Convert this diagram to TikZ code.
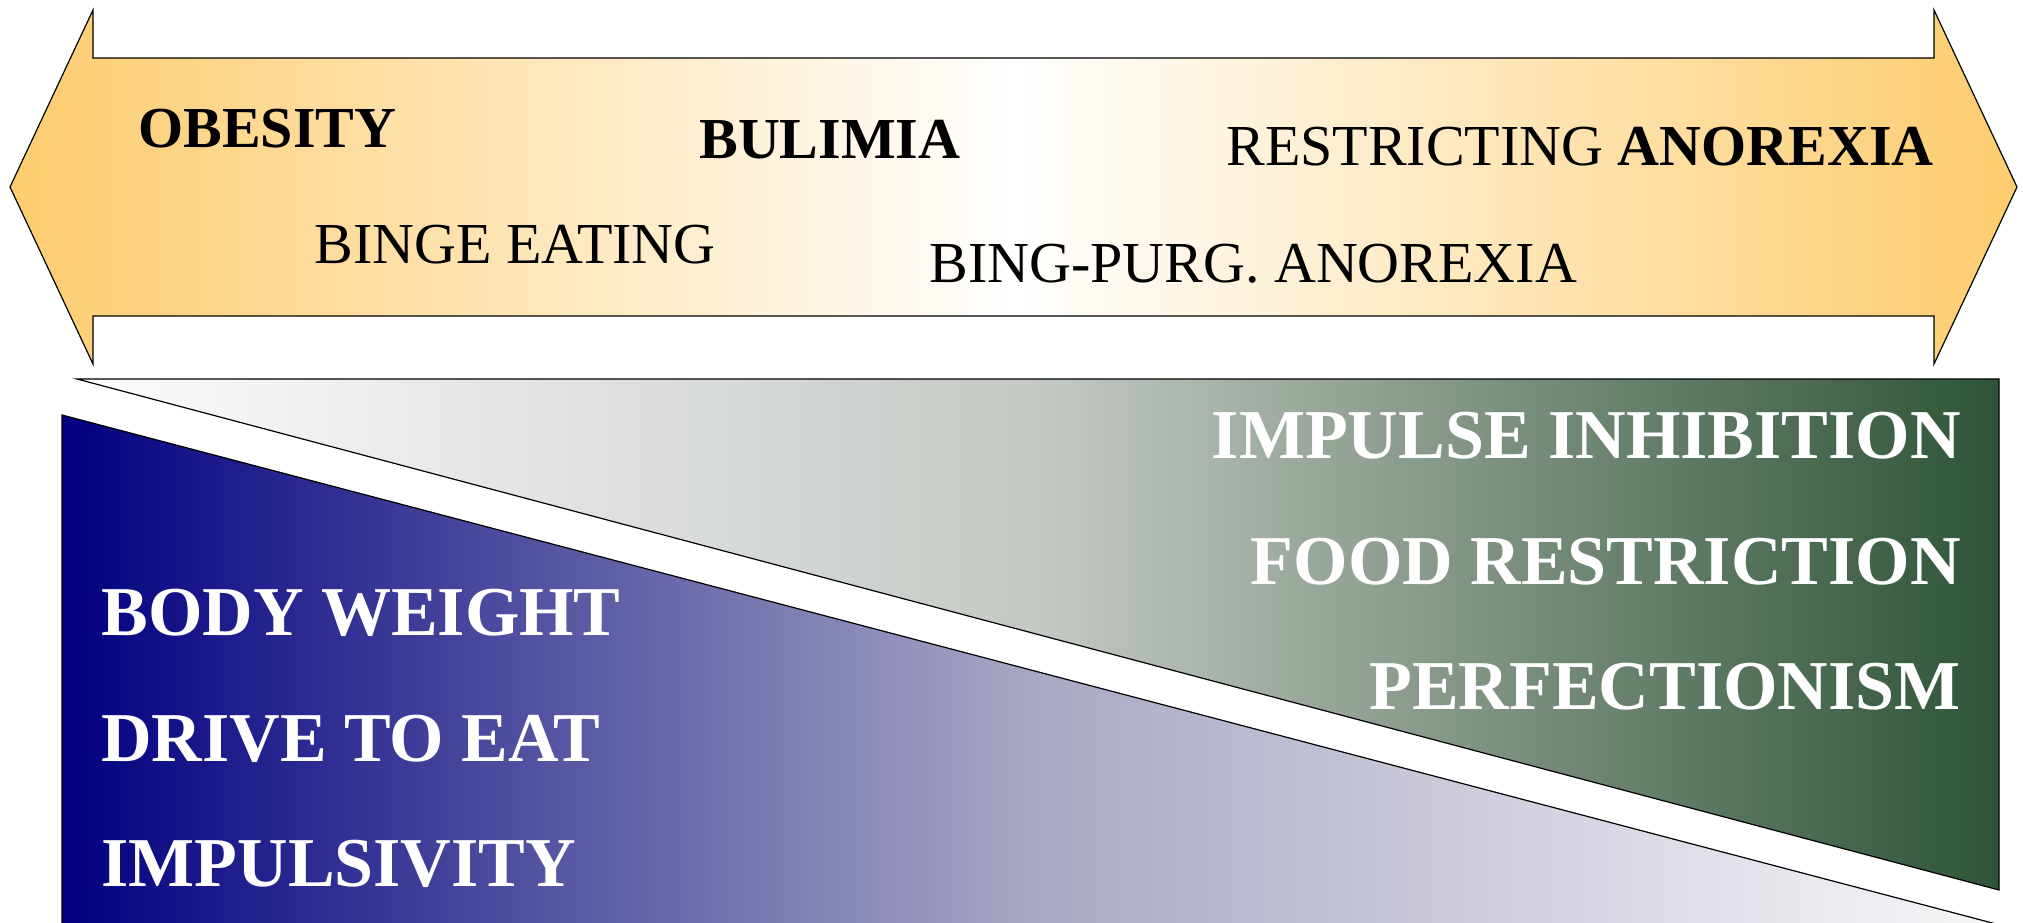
\documentclass[tikz,border=0pt]{standalone}
\usepackage{fontspec}
\setmainfont{Liberation Serif}
\definecolor{arroworange}{RGB}{253,204,110}
\definecolor{navyblue}{RGB}{0,0,128}
\definecolor{midblue}{RGB}{168,168,196}
\definecolor{paleblue}{RGB}{248,248,249}
\definecolor{dkgreen}{RGB}{46,84,54}
\definecolor{midgreen}{RGB}{196,201,196}
\definecolor{palegreen}{RGB}{253,253,253}
\begin{document}
\begin{tikzpicture}[x=0.5pt,y=-0.5pt,
  outline/.style={draw=black,line width=0.6pt,line join=miter},
  toplbl/.style={font=\fontsize{29}{30}\selectfont,inner sep=0pt,anchor=base west},
  whitelbl/.style={font=\bfseries\fontsize{35}{36}\selectfont,text=white,inner sep=0pt}]
\useasboundingbox (0,0) rectangle (2023,922);
\clip (0,0) rectangle (2023,922);
% double arrow
\path[outline,left color=arroworange,right color=arroworange,middle color=white]
  (10,187) -- (93,10) -- (93,58) -- (1934,58) -- (1934,10) -- (2017,187)
  -- (1934,364) -- (1934,316) -- (93,316) -- (93,364) -- cycle;
% green wedge
\path[outline,left color=palegreen,right color=dkgreen,middle color=midgreen]
  (77,379) -- (1999,379) -- (1999,890) -- cycle;
% blue wedge
\path[outline,left color=navyblue,right color=paleblue,middle color=midblue]
  (62,415) -- (2000,925) -- (2000,960) -- (62,960) -- cycle;
% arrow labels
\node[toplbl] (obesity) at (138,147) {\bfseries OBESITY};
\node[toplbl] (bulimia) at (699,158) {\bfseries BULIMIA};
\node[toplbl] (restr) at (1226,165) {RESTRICTING \textbf{ANOREXIA}};
\node[toplbl] (binge) at (314,263) {BINGE EATING};
\node[toplbl] (bingpurg) at (929,282) {BING-PURG. ANOREXIA};
% green labels
\node[whitelbl,anchor=base east] (inhib) at (1961,458) {IMPULSE INHIBITION};
\node[whitelbl,anchor=base east] (foodr) at (1961,584) {FOOD RESTRICTION};
\node[whitelbl,anchor=base east] (perf) at (1961,709) {PERFECTIONISM};
% blue labels
\node[whitelbl,anchor=base west] (bw) at (101,635) {BODY WEIGHT};
\node[whitelbl,anchor=base west] (dte) at (101,761) {DRIVE TO EAT};
\node[whitelbl,anchor=base west] (imp) at (101,886) {IMPULSIVITY};
\end{tikzpicture}
\end{document}
